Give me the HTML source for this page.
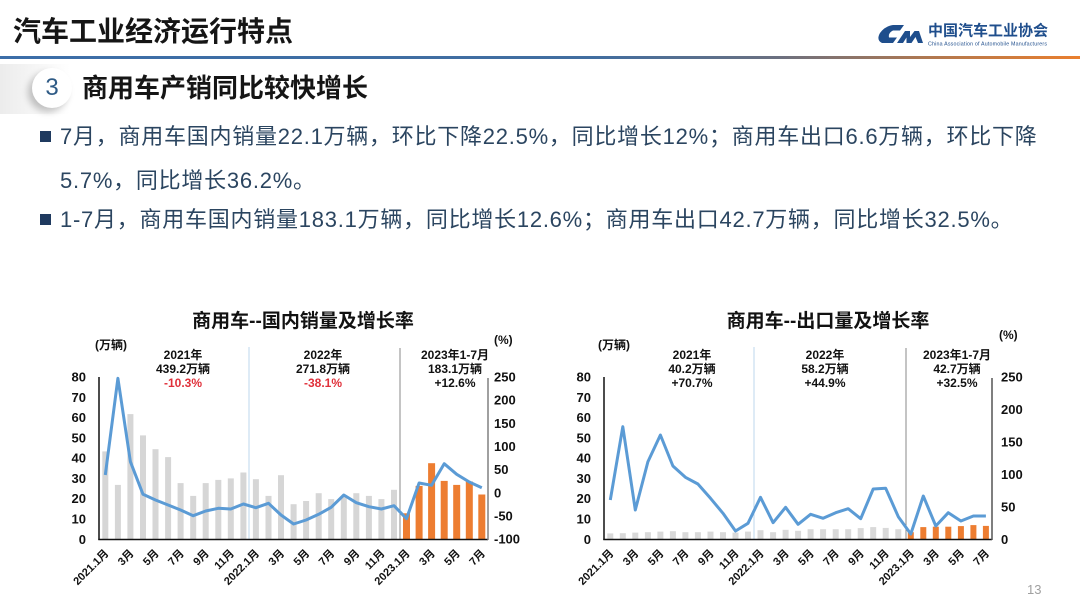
<!DOCTYPE html>
<html><head><meta charset="utf-8">
<style>
*{margin:0;padding:0;box-sizing:border-box}
html,body{width:1080px;height:607px;background:#fff;overflow:hidden}
body{position:relative;font-family:"Liberation Sans","Noto Sans CJK SC",sans-serif}
.abs{position:absolute;white-space:nowrap}
.h1{left:13px;top:17px;font-size:28px;line-height:30px;font-weight:bold;color:#151515}
.bar{left:0;top:56px;width:1080px;height:3px;background:linear-gradient(to right,#3c6ea8 0%,#416ea0 55%,#6b7080 72%,#b07850 86%,#ea7f2e 100%)}
.sh{left:0;top:64px;width:70px;height:50px;background:linear-gradient(to right,rgba(200,200,200,0.35),rgba(255,255,255,0))}
.badge{left:32px;top:68px;width:40px;height:40px;border-radius:50%;background:#fff;box-shadow:-4px 4px 7px rgba(0,0,0,0.22);text-align:center;font-size:24px;line-height:40px;color:#2f5b86}
.h2{left:82px;top:73px;font-size:26px;line-height:30px;font-weight:bold;color:#151515}
.bt{left:60px;font-size:22px;line-height:30px;color:#2b4560;letter-spacing:0.75px}
.sq{left:40px;width:11px;height:11px;background:#1f3a5f}
.pg{left:1027px;top:582px;font-size:13px;color:#a0a0a0}
</style></head><body>
<div class="abs h1">汽车工业经济运行特点</div>
<div class="abs bar"></div>
<svg class="abs" style="left:0;top:0" width="1080" height="60">
<path d="M893 25 L904 25 L900 30.5 L893 30.5 Q888 33 889 37.5 L897 37.5 L893 43 L882 43 Q876 40 880 33 Q885 26 893 25 Z" fill="#1f4e8c"/>
<path d="M897 43 L905 31 L910 31 L910 37 L914.5 31 L919 31 L923 43 L918 43 L915.5 37 L911.5 43 L906.5 43 L906.5 37.5 L903 43 Z" fill="#1f4e8c"/>
<text x="928" y="35.5" font-size="15" font-weight="bold" fill="#1f4e8c" font-family="Liberation Sans, Noto Sans CJK SC, sans-serif">中国汽车工业协会</text>
<text x="928" y="45.5" font-size="5.3" fill="#1f4e8c" font-family="Liberation Sans, sans-serif" textLength="119">China Association of Automobile Manufacturers</text>
</svg>
<div class="abs sh"></div>
<div class="abs badge">3</div>
<div class="abs h2">商用车产销同比较快增长</div>
<div class="abs sq" style="top:131px"></div>
<div class="abs bt" style="top:122px">7月，商用车国内销量22.1万辆，环比下降22.5%，同比增长12%；商用车出口6.6万辆，环比下降</div>
<div class="abs bt" style="top:166px">5.7%，同比增长36.2%。</div>
<div class="abs sq" style="top:214px"></div>
<div class="abs bt" style="top:205px">1-7月，商用车国内销量183.1万辆，同比增长12.6%；商用车出口42.7万辆，同比增长32.5%。</div>
<div class="abs pg">13</div>

<svg class="abs" style="left:0;top:0" width="1080" height="607" font-family="Liberation Sans, Noto Sans CJK SC, sans-serif" font-weight="bold">
<!-- LEFT CHART -->
<text x="303" y="327" font-size="19" text-anchor="middle" fill="#111">商用车--国内销量及增长率</text>
<text x="95" y="349" font-size="12" fill="#111">(万辆)</text>
<text x="494" y="344" font-size="12" fill="#111">(%)</text>
<line x1="249" y1="347" x2="249" y2="539" stroke="#bdd7ee" stroke-width="1"/>
<line x1="400" y1="348" x2="400" y2="539" stroke="#8a8a8a" stroke-width="1"/>
<g font-size="12" text-anchor="middle" fill="#111">
<text x="183" y="359">2021年</text><text x="183" y="373">439.2万辆</text><text x="183" y="387" fill="#e0303a">-10.3%</text>
<text x="323" y="359">2022年</text><text x="323" y="373">271.8万辆</text><text x="323" y="387" fill="#e0303a">-38.1%</text>
<text x="455" y="359">2023年1-7月</text><text x="455" y="373">183.1万辆</text><text x="455" y="387">+12.6%</text>
</g>
<g fill="#d6d6d6">
<rect x="102.3" y="451.4" width="6" height="87.9"/><rect x="114.9" y="484.9" width="6" height="54.4"/><rect x="127.4" y="414.1" width="6" height="125.2"/><rect x="140.0" y="435.4" width="6" height="103.9"/><rect x="152.5" y="449.2" width="6" height="90.1"/><rect x="165.1" y="457.1" width="6" height="82.2"/><rect x="177.6" y="483.1" width="6" height="56.2"/><rect x="190.2" y="495.9" width="6" height="43.4"/><rect x="202.7" y="483.1" width="6" height="56.2"/><rect x="215.3" y="479.9" width="6" height="59.4"/><rect x="227.8" y="478.4" width="6" height="60.9"/><rect x="240.4" y="472.5" width="6" height="66.8"/><rect x="252.9" y="479.2" width="6" height="60.1"/><rect x="265.5" y="495.9" width="6" height="43.4"/><rect x="278.0" y="475.2" width="6" height="64.1"/><rect x="290.6" y="504.2" width="6" height="35.1"/><rect x="303.1" y="501.0" width="6" height="38.3"/><rect x="315.7" y="493.2" width="6" height="46.1"/><rect x="328.2" y="499.1" width="6" height="40.2"/><rect x="340.8" y="496.7" width="6" height="42.6"/><rect x="353.3" y="493.2" width="6" height="46.1"/><rect x="365.9" y="495.9" width="6" height="43.4"/><rect x="378.4" y="499.1" width="6" height="40.2"/><rect x="391.0" y="489.8" width="6" height="49.5"/>
</g>
<g fill="#ed7d31">
<rect x="403.0" y="513.3" width="7" height="26.0"/><rect x="415.6" y="485.9" width="7" height="53.4"/><rect x="428.1" y="463.2" width="7" height="76.1"/><rect x="440.7" y="480.9" width="7" height="58.4"/><rect x="453.2" y="484.9" width="7" height="54.4"/><rect x="465.8" y="481.5" width="7" height="57.8"/><rect x="478.3" y="494.5" width="7" height="44.8"/>
</g>
<polyline fill="none" stroke="#5b9bd5" stroke-width="3" stroke-linejoin="round" points="105.3,475.0 117.9,378.3 130.4,461.7 143.0,494.3 155.5,500.0 168.1,505.0 180.6,510.0 193.2,515.7 205.7,511.0 218.3,508.3 230.8,509.0 243.4,504.0 255.9,507.7 268.5,503.3 281.0,515.0 293.6,524.0 306.1,520.0 318.7,514.3 331.2,507.3 343.8,495.0 356.3,502.7 368.9,506.7 381.4,509.0 394.0,505.7 406.5,518.7 419.1,483.0 431.6,485.3 444.2,463.7 456.7,474.3 469.3,482.0 481.8,487.7"/>
<line x1="99" y1="377" x2="99" y2="540" stroke="#111" stroke-width="1.5"/>
<line x1="98.3" y1="539.5" x2="488" y2="539.5" stroke="#111" stroke-width="1.5"/>
<line x1="488" y1="378" x2="488" y2="540" stroke="#808080" stroke-width="1.5"/>
<g font-size="13" text-anchor="end" fill="#111">
<text x="86" y="381.5">80</text><text x="86" y="401.8">70</text><text x="86" y="422.1">60</text><text x="86" y="442.4">50</text><text x="86" y="462.7">40</text><text x="86" y="483.0">30</text><text x="86" y="503.2">20</text><text x="86" y="523.5">10</text><text x="86" y="543.8">0</text>
</g>
<g font-size="13" fill="#111">
<text x="494" y="381.5">250</text><text x="494" y="404.7">200</text><text x="494" y="427.8">150</text><text x="494" y="451.0">100</text><text x="494" y="474.1">50</text><text x="494" y="497.3">0</text><text x="494" y="520.5">-50</text><text x="494" y="543.6">-100</text>
</g>
<g font-size="11" text-anchor="end" fill="#111">
<text transform="translate(109.3,554) rotate(-45)">2021.1月</text>
<text transform="translate(134.4,554) rotate(-45)">3月</text>
<text transform="translate(159.5,554) rotate(-45)">5月</text>
<text transform="translate(184.6,554) rotate(-45)">7月</text>
<text transform="translate(209.7,554) rotate(-45)">9月</text>
<text transform="translate(234.8,554) rotate(-45)">11月</text>
<text transform="translate(259.9,554) rotate(-45)">2022.1月</text>
<text transform="translate(285.0,554) rotate(-45)">3月</text>
<text transform="translate(310.1,554) rotate(-45)">5月</text>
<text transform="translate(335.2,554) rotate(-45)">7月</text>
<text transform="translate(360.3,554) rotate(-45)">9月</text>
<text transform="translate(385.4,554) rotate(-45)">11月</text>
<text transform="translate(410.5,554) rotate(-45)">2023.1月</text>
<text transform="translate(435.6,554) rotate(-45)">3月</text>
<text transform="translate(460.7,554) rotate(-45)">5月</text>
<text transform="translate(485.8,554) rotate(-45)">7月</text>
</g>

<!-- RIGHT CHART -->
<text x="828" y="327" font-size="19" text-anchor="middle" fill="#111">商用车--出口量及增长率</text>
<text x="598" y="349" font-size="12" fill="#111">(万辆)</text>
<text x="999" y="339" font-size="12" fill="#111">(%)</text>
<line x1="754" y1="347" x2="754" y2="539" stroke="#bdd7ee" stroke-width="1"/>
<line x1="906" y1="348" x2="906" y2="539" stroke="#8a8a8a" stroke-width="1"/>
<g font-size="12" text-anchor="middle" fill="#111">
<text x="692" y="359">2021年</text><text x="692" y="373">40.2万辆</text><text x="692" y="387">+70.7%</text>
<text x="825" y="359">2022年</text><text x="825" y="373">58.2万辆</text><text x="825" y="387">+44.9%</text>
<text x="957" y="359">2023年1-7月</text><text x="957" y="373">42.7万辆</text><text x="957" y="387">+32.5%</text>
</g>
<g fill="#d9d9d9">
<rect x="607.3" y="533.4" width="6" height="5.9"/><rect x="619.8" y="533.2" width="6" height="6.1"/><rect x="632.3" y="532.6" width="6" height="6.7"/><rect x="644.9" y="532.2" width="6" height="7.1"/><rect x="657.4" y="531.6" width="6" height="7.7"/><rect x="669.9" y="531.2" width="6" height="8.1"/><rect x="682.4" y="532.2" width="6" height="7.1"/><rect x="694.9" y="532.2" width="6" height="7.1"/><rect x="707.5" y="531.6" width="6" height="7.7"/><rect x="720.0" y="532.2" width="6" height="7.1"/><rect x="732.5" y="532.6" width="6" height="6.7"/><rect x="745.0" y="531.6" width="6" height="7.7"/><rect x="757.5" y="530.2" width="6" height="9.1"/><rect x="770.1" y="532.2" width="6" height="7.1"/><rect x="782.6" y="529.8" width="6" height="9.5"/><rect x="795.1" y="530.8" width="6" height="8.5"/><rect x="807.6" y="529.2" width="6" height="10.1"/><rect x="820.1" y="529.2" width="6" height="10.1"/><rect x="832.7" y="529.2" width="6" height="10.1"/><rect x="845.2" y="529.2" width="6" height="10.1"/><rect x="857.7" y="528.1" width="6" height="11.2"/><rect x="870.2" y="527.1" width="6" height="12.2"/><rect x="882.7" y="527.9" width="6" height="11.4"/><rect x="895.3" y="529.2" width="6" height="10.1"/>
</g>
<g fill="#ed7d31">
<rect x="907.8" y="532.2" width="6" height="7.1"/><rect x="920.3" y="527.1" width="6" height="12.2"/><rect x="932.8" y="526.7" width="6" height="12.6"/><rect x="945.3" y="526.7" width="6" height="12.6"/><rect x="957.9" y="526.1" width="6" height="13.2"/><rect x="970.4" y="525.1" width="6" height="14.2"/><rect x="982.9" y="525.9" width="6" height="13.4"/>
</g>
<polyline fill="none" stroke="#5b9bd5" stroke-width="3" stroke-linejoin="round" points="610.3,500.0 622.8,426.7 635.3,510.0 647.9,461.7 660.4,435.0 672.9,466.0 685.4,477.3 697.9,484.0 710.5,498.3 723.0,513.3 735.5,531.0 748.0,523.3 760.5,497.3 773.1,522.7 785.6,507.3 798.1,524.3 810.6,514.3 823.1,518.3 835.7,512.7 848.2,508.7 860.7,518.7 873.2,489.0 885.7,488.3 898.3,516.7 910.8,534.0 923.3,496.0 935.8,526.0 948.3,512.7 960.9,521.0 973.4,516.0 985.9,516.0"/>
<line x1="604" y1="377" x2="604" y2="540" stroke="#111" stroke-width="1.5"/>
<line x1="603.3" y1="539.5" x2="992" y2="539.5" stroke="#111" stroke-width="1.5"/>
<line x1="992" y1="378" x2="992" y2="540" stroke="#555" stroke-width="1.5"/>
<g font-size="13" text-anchor="end" fill="#111">
<text x="591" y="381.5">80</text><text x="591" y="401.8">70</text><text x="591" y="422.1">60</text><text x="591" y="442.4">50</text><text x="591" y="462.7">40</text><text x="591" y="483.0">30</text><text x="591" y="503.2">20</text><text x="591" y="523.5">10</text><text x="591" y="543.8">0</text>
</g>
<g font-size="13" fill="#111">
<text x="1001" y="381.5">250</text><text x="1001" y="414.0">200</text><text x="1001" y="446.5">150</text><text x="1001" y="478.9">100</text><text x="1001" y="511.4">50</text><text x="1001" y="543.8">0</text>
</g>
<g font-size="11" text-anchor="end" fill="#111">
<text transform="translate(614.3,554) rotate(-45)">2021.1月</text>
<text transform="translate(639.3,554) rotate(-45)">3月</text>
<text transform="translate(664.4,554) rotate(-45)">5月</text>
<text transform="translate(689.4,554) rotate(-45)">7月</text>
<text transform="translate(714.5,554) rotate(-45)">9月</text>
<text transform="translate(739.5,554) rotate(-45)">11月</text>
<text transform="translate(764.5,554) rotate(-45)">2022.1月</text>
<text transform="translate(789.6,554) rotate(-45)">3月</text>
<text transform="translate(814.6,554) rotate(-45)">5月</text>
<text transform="translate(839.7,554) rotate(-45)">7月</text>
<text transform="translate(864.7,554) rotate(-45)">9月</text>
<text transform="translate(889.7,554) rotate(-45)">11月</text>
<text transform="translate(914.8,554) rotate(-45)">2023.1月</text>
<text transform="translate(939.8,554) rotate(-45)">3月</text>
<text transform="translate(964.9,554) rotate(-45)">5月</text>
<text transform="translate(989.9,554) rotate(-45)">7月</text>
</g>
</svg>
</body></html>
